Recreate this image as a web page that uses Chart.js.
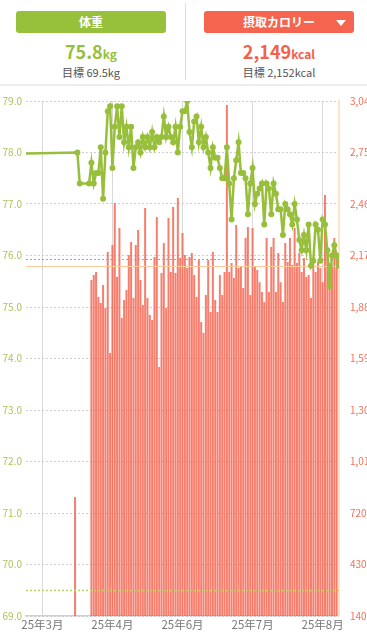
<!DOCTYPE html>
<html lang="ja">
<head>
<meta charset="utf-8">
<title>体重と摂取カロリー</title>
<script src="https://cdn.jsdelivr.net/npm/chart.js@4.4.1/dist/chart.umd.min.js"></script>
<style>
  body {
    margin: 0;
    width: 367px;
    height: 632px;
    overflow: hidden;
    background: #fff;
    position: relative;
    font-family: "Noto Sans CJK JP", "Noto Sans", sans-serif;
  }
  .btn {
    position: absolute;
    top: 11px;
    width: 150px;
    height: 22px;
    border-radius: 3px;
    color: #fff;
    font-size: 12px;
    font-weight: bold;
    line-height: 22px;
    text-align: center;
  }
  #btnWeight { left: 16px; background: #97c03b; }
  #btnKcal { left: 204px; background: #f5644e; }
  .arrow {
    position: absolute;
    right: 8px;
    top: 9px;
    width: 0;
    height: 0;
    border-left: 5px solid transparent;
    border-right: 5px solid transparent;
    border-top: 6px solid #fff;
  }
  .value {
    position: absolute;
    top: 38px;
    width: 150px;
    text-align: center;
    font-size: 18px;
    font-weight: bold;
  }
  .value small { font-size: 12px; }
  .goal {
    position: absolute;
    top: 64px;
    width: 150px;
    text-align: center;
    font-size: 11px;
    color: #555;
  }
  #divider {
    position: absolute;
    left: 185px;
    top: 3px;
    width: 1px;
    height: 77px;
    background: #dedede;
  }
  #headerLine {
    position: absolute;
    left: 0;
    top: 84px;
    width: 367px;
    height: 2px;
    background: #ececec;
  }
  #chartBox {
    position: absolute;
    left: 0;
    top: 86px;
    width: 367px;
    height: 546px;
  }
</style>
</head>
<body>
<div class="btn" id="btnWeight">体重</div>
<div class="value" style="left:16px;color:#97bf3b">75.8<small>kg</small></div>
<div class="goal" style="left:16px">目標 69.5kg</div>
<div id="divider"></div>
<div class="btn" id="btnKcal">摂取カロリー<div class="arrow"></div></div>
<div class="value" style="left:204px;color:#f2614c">2,149<small>kcal</small></div>
<div class="goal" style="left:204px">目標 2,152kcal</div>
<div id="headerLine"></div>
<div id="chartBox"><canvas id="chart" width="367" height="546"></canvas></div>

<script>
// x axis: days, day 0 = first month gridline
const dayMin = -7;
const dayMax = 127;
const monthTickDays = [0, 30, 60, 90, 120];
const monthLabels = ['25年3月', '25年4月', '25年6月', '25年7月', '25年8月'];

// weight axis (left) and calorie axis (right): min, max, step
const weightTicks = [69, 79, 1];
const kcalTicks = [140, 3040, 290];

// weight (kg), one value per day from weightStartDay; null = no record
const weightBeforeDay = -20;
const weightBefore = 77.97;
const weightStartDay = 15;
const weightKg = [
  78.0, 77.4, null, null, null, 77.4, 77.8, 77.4, 77.6, 77.6,
  78.1, 77.1, 78.0, 78.8, 78.9, 77.7, 78.5, 78.9, 78.3, 78.9,
  78.2, 78.5, 78.1, 78.5, 77.7, 78.1, 78.2, 78.0, 78.3, 78.1,
  78.3, 78.1, 78.4, 78.1, 78.3, 78.2, 78.3, 78.7, 78.3, 78.5,
  78.3, 78.2, 78.5, 78.0, 78.5, 78.8, 78.8, 79.0, 78.4, 78.1,
  78.6, 78.7, 78.2, 78.5, 78.1, 78.3, 78.0, 77.7, 78.1, 77.9,
  77.9, 77.7, 77.5, 77.5, 78.1, 77.4, 76.7, 77.5, 77.85, 78.2,
  77.6, 77.6, 77.5, 76.8, 77.4, 77.7, 77.0, 77.2, 77.3, 77.4,
  76.6, 77.4, 77.3, 76.8, 77.4, 77.2, 76.9, 76.9, 76.4, 77.0,
  76.9, 76.8, 76.6, 77.0, 76.7, 76.3, 76.1, 76.4, 76.1, 76.6,
  75.8, 75.9, 76.6, 76.5, 75.9, 76.7, 76.6, 76.1, 75.4, 76.0,
  76.2, 76.0, 75.8
];

// calorie intake (kcal), one isolated day and then daily from kcalStartDay
const kcalLoneDay = 14;
const kcalLone = 810;
const kcalStartDay = 21;
const kcalValues = [
  2032, 2060, 2077, 1936, 1902, 2004, 1874, 2190, 1621, 2229,
  2465, 2049, 2325, 1818, 1919, 1976, 2173, 2246, 1930, 2229,
  2313, 2032, 1891, 2437, 1930, 1835, 1807, 2162, 2387, 1542,
  2071, 2240, 1874, 2381, 2077, 2443, 2071, 2494, 2156, 2297,
  2173, 2100, 2162, 2184, 2060, 1936, 2144, 1796, 1733, 1947,
  2144, 1852, 2190, 1919, 1852, 2060, 1947, 2077, 3017, 2077,
  2128, 2043, 2342, 2100, 2105, 1987, 2268, 2330, 1947, 2325,
  2105, 2088, 2020, 1964, 1908, 2268, 1964, 2218, 2268, 1964,
  2184, 2020, 1908, 2240, 2133, 2268, 2117, 2325, 2128, 2184,
  2077, 2156, 2049, 2060, 1930, 2156, 2077, 2133, 2100, 2020,
  2510, 2212, 2128, 2117, 2268, 2156
];

// reference lines
const weightGoal = 69.5;
const weightNow = 75.8;
const kcalGoal = 2152;

const GREEN = '#97bf3b';

const weightPoints = [{ x: weightBeforeDay, y: weightBefore }].concat(
  weightKg.map((v, i) => ({ x: weightStartDay + i, y: v }))
);
const kcalPoints = [{ x: kcalLoneDay, y: kcalLone }].concat(
  kcalValues.map((v, i) => ({ x: kcalStartDay + i, y: v }))
);

// goal / current lines, drawn right after the bars
const refLines = {
  id: 'refLines',
  afterDatasetDraw(chart, args) {
    if (args.index !== 1) return;
    const { ctx, chartArea } = chart;
    const yW = chart.scales.yWeight;
    const yK = chart.scales.yKcal;
    const hline = (y, color, width, dash) => {
      ctx.save();
      ctx.strokeStyle = color;
      ctx.lineWidth = width;
      ctx.setLineDash(dash);
      ctx.beginPath();
      ctx.moveTo(chartArea.left, y);
      ctx.lineTo(chartArea.right, y);
      ctx.stroke();
      ctx.restore();
    };
    hline(Math.round(yW.getPixelForValue(weightGoal)) + 0.5, '#bcd160', 1.5, [2, 2]);
    hline(Math.round(yK.getPixelForValue(kcalGoal)) + 0.5, '#f1857a', 1, [2, 2]);
    hline(Math.round(yW.getPixelForValue(weightNow)) + 0.5, '#fbc99a', 1, []);
  }
};

const ctx = document.getElementById('chart').getContext('2d');
new Chart(ctx, {
  type: 'bar',
  data: {
    datasets: [
      {
        type: 'line',
        label: '体重',
        data: weightPoints,
        yAxisID: 'yWeight',
        borderColor: GREEN,
        backgroundColor: GREEN,
        borderWidth: 2.5,
        pointRadius: 3,
        pointBorderWidth: 0,
        tension: 0,
        spanGaps: true,
        order: 0
      },
      {
        type: 'bar',
        label: '摂取カロリー',
        data: kcalPoints,
        yAxisID: 'yKcal',
        backgroundColor: 'rgba(245,96,76,0.82)',
        barPercentage: 0.85,
        categoryPercentage: 1,
        order: 1
      }
    ]
  },
  options: {
    responsive: false,
    animation: false,
    layout: { padding: { top: 15 } },
    plugins: {
      legend: { display: false },
      tooltip: { enabled: false }
    },
    scales: {
      x: {
        type: 'linear',
        min: dayMin,
        max: dayMax,
        offset: false,
        grid: { offset: false, color: '#d9d9d9', drawTicks: false },
        border: { display: true, color: '#cfcfcf', width: 1.5 },
        afterBuildTicks: (scale) => {
          scale.ticks = monthTickDays.map(v => ({ value: v }));
        },
        ticks: {
          autoSkip: false,
          maxRotation: 0,
          padding: 2,
          color: '#777',
          font: { size: 11.5, family: '"Noto Sans CJK JP"' },
          callback: (v) => monthLabels[monthTickDays.indexOf(v)]
        },
        afterFit: (scale) => { scale.height = 16; }
      },
      yWeight: {
        position: 'left',
        min: weightTicks[0],
        max: weightTicks[1],
        grid: { color: '#cfcfcf', drawTicks: false },
        border: { display: false, dash: [2, 2] },
        ticks: {
          stepSize: weightTicks[2],
          padding: 4,
          color: '#a9c654',
          font: { size: 10, family: '"Noto Sans CJK JP"' },
          callback: (v) => v.toFixed(1)
        },
        afterFit: (scale) => { scale.width = 26; }
      },
      yKcal: {
        position: 'right',
        min: kcalTicks[0],
        max: kcalTicks[1],
        grid: { display: false },
        border: { display: true, color: '#fde3c9', width: 2 },
        ticks: {
          stepSize: kcalTicks[2],
          padding: 3,
          color: '#f46f5a',
          font: { size: 10, family: '"Noto Sans CJK JP"' },
          callback: (v) => v.toLocaleString('en-US')
        },
        afterFit: (scale) => { scale.width = 28; }
      }
    }
  },
  plugins: [refLines]
});
</script>
</body>
</html>
